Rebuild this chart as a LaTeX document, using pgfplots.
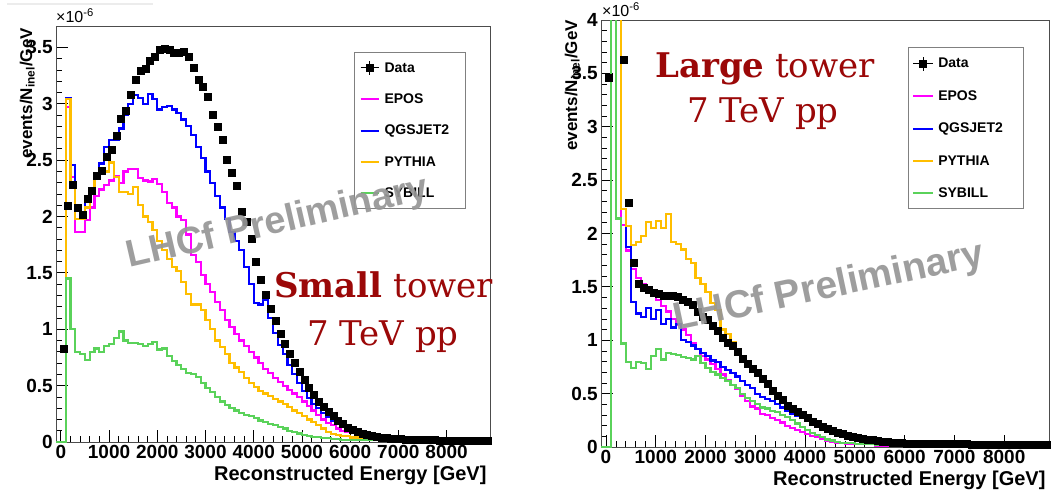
\documentclass[border=0pt]{standalone}
\usepackage{fontspec}
\setmainfont{Liberation Sans}
\newfontfamily\slab{DejaVu Serif}
\usepackage{pgfplots}
\pgfplotsset{compat=1.18}

\definecolor{rmag}{RGB}{255,0,255}
\definecolor{rblue}{RGB}{0,0,255}
\definecolor{rorange}{RGB}{255,190,0}
\definecolor{rgreen}{RGB}{90,210,90}
\definecolor{darkred}{RGB}{155,8,8}
\definecolor{wmark}{RGB}{150,150,150}

\def\lgw{18pt}
\def\lgt{76pt}
\newcommand\lgent[1]{\raisebox{0pt}[10pt][0pt]{\makebox[\lgt][l]{#1}}}

\pgfplotsset{
  lhcf/.style={
    scale only axis,
    anchor=south west,
    xmin=-100, xmax=8900, ymin=0,
    xtick={0,1000,...,8000},
    minor x tick num=4, minor y tick num=4,
    tick pos=left,
    major tick length=12pt, minor tick length=6pt,
    tick style={black, line width=0.8pt},
    axis line style={gray!60!black, line width=0.8pt},
    /pgf/number format/assume math mode=true,
    /pgf/number format/set thousands separator={},
    tick label style={font=\fontsize{19}{19}\selectfont\bfseries},
    yticklabel style={inner xsep=3pt},
    legend cell align=left,
  },
  hist/.style={const plot, mark=none, line width=2.2pt,
    legend image code/.code={\path[draw=none, fill=none] (0pt,-7pt) rectangle (\lgw,7pt);
      \draw[##1, line width=2pt] (0pt,0pt) -- (\lgw,0pt);}},
  data/.style={only marks, mark=square*, mark size=3.5pt, black,
    legend image code/.code={\path[draw=none, fill=none] (0pt,-7pt) rectangle (\lgw,7pt);
      \draw[black, line width=0.8pt] (0pt,0pt) -- (\lgw,0pt);
      \draw[black, line width=0.8pt] ({\lgw/2},-7pt) -- ({\lgw/2},7pt);
      \fill[black] ({\lgw/2-3.5pt},-3.5pt) rectangle ({\lgw/2+3.5pt},3.5pt);}},
}

\begin{document}
\begin{tikzpicture}
\useasboundingbox (0pt,0pt) rectangle (1052pt,-494pt);
\draw[gray!15, line width=2pt] (7pt,-4pt) -- (153pt,-4pt);

% ---------------- Small tower ----------------
\begin{axis}[lhcf, at={(56pt,-442pt)}, width=434pt, height=416pt,
  ymax=3.69, ytick={0,0.5,1,1.5,2,2.5,3,3.5},
  legend style={at={(rel axis cs:0.687,0.9375)}, anchor=north west,
    draw=gray, line width=0.8pt, fill=white, inner xsep=5pt, inner ysep=8pt,
    row sep=17.25pt, font=\fontsize{14}{14}\selectfont\bfseries,
    nodes={inner sep=0pt}, /tikz/every odd column/.append style={column sep=5pt}}]

\addplot[data] coordinates {
(50,0.83)(150,2.10)(250,2.28)(350,2.08)(450,2.02)(550,2.16)(650,2.23)(750,2.36)(850,2.41)(950,2.53)
(1050,2.59)(1150,2.72)(1250,2.87)(1350,2.94)(1450,3.08)(1550,3.21)(1650,3.29)(1750,3.31)(1850,3.38)(1950,3.42)
(2050,3.48)(2150,3.49)(2250,3.48)(2350,3.45)(2450,3.45)(2550,3.46)(2650,3.42)(2750,3.32)(2850,3.21)(2950,3.15)
(3050,3.06)(3150,2.90)(3250,2.80)(3350,2.68)(3450,2.50)(3550,2.39)(3650,2.27)(3750,2.04)(3850,1.95)(3950,1.80)
(4050,1.60)(4150,1.44)(4250,1.31)(4350,1.18)(4450,1.08)(4550,0.96)(4650,0.87)(4750,0.78)(4850,0.70)(4950,0.62)
(5050,0.55)(5150,0.48)(5250,0.42)(5350,0.36)(5450,0.31)(5550,0.27)(5650,0.23)(5750,0.19)(5850,0.16)(5950,0.13)
(6050,0.11)(6150,0.09)(6250,0.075)(6350,0.065)(6450,0.055)(6550,0.047)(6650,0.04)(6750,0.035)(6850,0.031)(6950,0.028)
(7050,0.025)(7150,0.023)(7250,0.021)(7350,0.02)(7450,0.019)(7550,0.018)(7650,0.017)(7750,0.016)(7850,0.015)(7950,0.014)
(8050,0.013)(8150,0.013)(8250,0.012)(8350,0.012)(8450,0.011)(8550,0.011)(8650,0.010)(8750,0.010)(8850,0.010)};
\addlegendentry{\lgent{Data}}

\addplot[hist, rmag] coordinates {
(-100,0)(100,2.97)(200,2.35)(300,1.86)(400,1.86)(500,1.97)(600,2.08)(700,2.18)(800,2.24)(900,2.28)
(1000,2.32)(1100,2.36)(1200,2.30)(1300,2.40)(1400,2.42)(1500,2.42)(1600,2.34)(1700,2.32)(1800,2.31)(1900,2.33)
(2000,2.29)(2100,2.22)(2200,2.12)(2300,2.08)(2400,2.00)(2500,1.97)(2600,1.84)(2700,1.66)(2800,1.60)(2900,1.48)
(3000,1.40)(3100,1.33)(3200,1.24)(3300,1.17)(3400,1.08)(3500,1.02)(3600,0.96)(3700,0.90)(3800,0.85)(3900,0.80)
(4000,0.75)(4100,0.70)(4200,0.65)(4300,0.61)(4400,0.57)(4500,0.53)(4600,0.50)(4700,0.46)(4800,0.43)(4900,0.40)
(5000,0.36)(5100,0.32)(5200,0.28)(5300,0.24)(5400,0.20)(5500,0.17)(5600,0.15)(5700,0.12)(5800,0.10)(5900,0.09)
(6000,0.08)(6200,0.06)(6400,0.045)(6600,0.035)(6800,0.028)(7000,0.02)(7500,0.015)(8000,0.01)(8500,0.008)(8900,0.008)};
\addlegendentry{\lgent{EPOS}}

\addplot[hist, rblue] coordinates {
(-100,0)(100,3.05)(200,2.46)(300,2.10)(400,2.03)(500,2.16)(600,2.25)(700,2.38)(800,2.47)(900,2.62)
(1000,2.68)(1100,2.68)(1200,2.78)(1300,2.90)(1400,3.00)(1500,3.08)(1600,3.05)(1700,3.00)(1800,3.09)(1900,3.04)
(2000,2.95)(2100,2.97)(2200,2.98)(2300,2.95)(2400,2.92)(2500,2.86)(2600,2.80)(2700,2.72)(2800,2.62)(2900,2.52)
(3000,2.40)(3100,2.30)(3200,2.18)(3300,2.08)(3400,1.98)(3500,1.86)(3600,1.78)(3700,1.70)(3800,1.55)(3900,1.40)
(4000,1.23)(4100,1.22)(4200,1.26)(4300,1.10)(4400,0.97)(4500,0.86)(4600,0.78)(4700,0.68)(4800,0.60)(4900,0.52)
(5000,0.45)(5100,0.39)(5200,0.34)(5300,0.30)(5400,0.26)(5500,0.22)(5600,0.19)(5700,0.16)(5800,0.13)(5900,0.11)
(6000,0.10)(6100,0.085)(6200,0.075)(6300,0.065)(6400,0.055)(6600,0.045)(6800,0.035)(7000,0.028)(7300,0.02)(7700,0.015)
(8100,0.011)(8500,0.008)(8900,0.008)};
\addlegendentry{\lgent{QGSJET2}}

\addplot[hist, rorange] coordinates {
(-100,0)(100,3.04)(200,2.30)(300,1.98)(400,1.98)(500,2.08)(600,2.22)(700,2.33)(800,2.38)(900,2.40)
(1000,2.48)(1100,2.35)(1200,2.22)(1300,2.22)(1400,2.20)(1500,2.26)(1600,2.10)(1700,2.00)(1800,1.95)(1900,1.88)
(2000,1.78)(2100,1.70)(2200,1.62)(2300,1.55)(2400,1.52)(2500,1.42)(2600,1.31)(2700,1.22)(2800,1.22)(2900,1.17)
(3000,1.08)(3100,1.00)(3200,0.90)(3300,0.84)(3400,0.78)(3500,0.70)(3600,0.66)(3700,0.62)(3800,0.57)(3900,0.52)
(4000,0.49)(4100,0.45)(4200,0.43)(4300,0.41)(4400,0.38)(4500,0.36)(4600,0.34)(4700,0.31)(4800,0.28)(4900,0.26)
(5000,0.23)(5100,0.20)(5200,0.18)(5300,0.15)(5400,0.12)(5500,0.09)(5600,0.07)(5700,0.06)(5800,0.05)(6000,0.04)
(6200,0.03)(6500,0.02)(7000,0.015)(7500,0.01)(8000,0.008)(8900,0.008)};
\addlegendentry{\lgent{PYTHIA}}

\addplot[hist, rgreen] coordinates {
(-100,0)(100,1.45)(200,1.0)(300,0.80)(400,0.78)(500,0.73)(600,0.80)(700,0.83)(800,0.80)(900,0.85)
(1000,0.87)(1100,0.92)(1200,0.98)(1300,0.90)(1400,0.88)(1500,0.88)(1600,0.87)(1700,0.85)(1800,0.87)(1900,0.89)
(2000,0.82)(2100,0.83)(2200,0.76)(2300,0.72)(2400,0.68)(2500,0.65)(2600,0.61)(2700,0.60)(2800,0.58)(2900,0.52)
(3000,0.48)(3100,0.44)(3200,0.40)(3300,0.36)(3400,0.33)(3500,0.30)(3600,0.28)(3700,0.26)(3800,0.24)(3900,0.23)
(4000,0.21)(4100,0.19)(4200,0.18)(4300,0.16)(4400,0.15)(4500,0.13)(4600,0.12)(4700,0.10)(4800,0.09)(4900,0.075)
(5000,0.065)(5100,0.055)(5200,0.045)(5400,0.035)(5600,0.025)(5800,0.02)(6200,0.015)(6800,0.01)(7500,0.008)(8200,0.005)(8900,0.005)};
\addlegendentry{\lgent{SYBILL}}
\end{axis}

% ---------------- Large tower ----------------
\def\lgw{20pt}
\def\lgt{81pt}
\begin{axis}[lhcf, at={(601pt,-447pt)}, width=448pt, height=427pt,
  ymax=4, ytick={0,0.5,1,1.5,2,2.5,3,3.5,4},
  legend style={at={(rel axis cs:0.685,0.936)}, anchor=north west,
    draw=gray, line width=0.8pt, fill=white, inner xsep=4pt, inner ysep=8.5pt,
    row sep=18.25pt, font=\fontsize{14}{14}\selectfont\bfseries,
    nodes={inner sep=0pt}, /tikz/every odd column/.append style={column sep=4pt}}]

\addplot[data] coordinates {
(50,3.46)(350,3.63)(450,2.29)(550,1.73)(650,1.53)(750,1.49)(850,1.47)(950,1.45)
(1050,1.44)(1150,1.42)(1250,1.42)(1350,1.42)(1450,1.41)(1550,1.38)(1650,1.36)(1750,1.33)(1850,1.27)(1950,1.22)
(2050,1.19)(2150,1.14)(2250,1.09)(2350,1.02)(2450,0.98)(2550,0.95)(2650,0.89)(2750,0.83)(2850,0.78)(2950,0.73)
(3050,0.70)(3150,0.64)(3250,0.59)(3350,0.53)(3450,0.48)(3550,0.44)(3650,0.39)(3750,0.36)(3850,0.33)(3950,0.30)
(4050,0.27)(4150,0.24)(4250,0.22)(4350,0.19)(4450,0.17)(4550,0.15)(4650,0.13)(4750,0.12)(4850,0.105)(4950,0.094)
(5050,0.085)(5150,0.077)(5250,0.07)(5350,0.064)(5450,0.058)(5550,0.053)(5650,0.048)(5750,0.044)(5850,0.04)(5950,0.037)
(6050,0.035)(6150,0.034)(6250,0.033)(6350,0.032)(6450,0.031)(6550,0.03)(6650,0.03)(6750,0.029)(6850,0.029)(6950,0.028)
(7050,0.028)(7150,0.027)(7250,0.027)(7350,0.026)(7450,0.026)(7550,0.025)(7650,0.025)(7750,0.025)(7850,0.024)(7950,0.024)
(8050,0.024)(8150,0.023)(8250,0.023)(8350,0.023)(8450,0.022)(8550,0.022)(8650,0.022)(8750,0.022)(8850,0.022)};
\addlegendentry{\lgent{Data}}

\addplot[hist, rmag] coordinates {
(-100,0)(100,6)(300,2.08)(400,1.84)(500,1.67)(600,1.58)(700,1.53)(800,1.50)(900,1.45)
(1000,1.38)(1100,1.32)(1200,1.27)(1300,1.20)(1400,1.14)(1500,1.10)(1600,1.05)(1700,0.97)(1800,0.92)(1900,0.85)
(2000,0.82)(2100,0.78)(2200,0.73)(2300,0.68)(2400,0.63)(2500,0.58)(2600,0.54)(2700,0.48)(2800,0.43)(2900,0.38)
(3000,0.36)(3100,0.31)(3200,0.30)(3300,0.27)(3400,0.25)(3500,0.23)(3600,0.20)(3700,0.18)(3800,0.16)(3900,0.14)
(4000,0.12)(4100,0.10)(4200,0.09)(4300,0.08)(4400,0.06)(4500,0.05)(4600,0.04)(4800,0.03)(5000,0.025)(5400,0.015)
(6000,0.01)(7000,0.006)(8900,0.006)};
\addlegendentry{\lgent{EPOS}}

\addplot[hist, rblue] coordinates {
(-100,0)(100,6)(300,2.23)(400,1.87)(500,1.36)(600,1.25)(700,1.22)(800,1.30)(900,1.20)
(1000,1.28)(1100,1.15)(1200,1.20)(1300,1.12)(1400,1.15)(1500,1.00)(1600,0.98)(1700,0.95)(1800,0.92)(1900,0.88)
(2000,0.85)(2100,0.81)(2200,0.80)(2300,0.75)(2400,0.72)(2500,0.69)(2600,0.66)(2700,0.62)(2800,0.58)(2900,0.55)
(3000,0.50)(3100,0.47)(3200,0.45)(3300,0.43)(3400,0.40)(3500,0.37)(3600,0.34)(3700,0.31)(3800,0.29)(3900,0.27)
(4000,0.24)(4100,0.21)(4200,0.19)(4300,0.17)(4400,0.15)(4500,0.13)(4600,0.11)(4700,0.10)(4800,0.08)(5000,0.065)
(5200,0.05)(5400,0.04)(5600,0.03)(6000,0.02)(6500,0.015)(7000,0.01)(8000,0.007)(8900,0.007)};
\addlegendentry{\lgent{QGSJET2}}

\addplot[hist, rorange] coordinates {
(-100,0)(100,8)(300,2.23)(400,2.07)(500,1.89)(600,1.92)(700,1.98)(800,2.11)(900,2.05)
(1000,2.12)(1100,2.05)(1200,2.18)(1300,1.92)(1400,1.90)(1500,1.85)(1600,1.76)(1700,1.72)(1800,1.58)(1900,1.53)
(2000,1.45)(2100,1.35)(2200,1.28)(2300,1.10)(2400,1.06)(2500,0.98)(2600,0.90)(2700,0.82)(2800,0.77)(2900,0.72)
(3000,0.68)(3100,0.62)(3200,0.58)(3300,0.54)(3400,0.48)(3500,0.43)(3600,0.38)(3700,0.35)(3800,0.31)(3900,0.28)
(4000,0.25)(4100,0.22)(4200,0.20)(4300,0.17)(4400,0.15)(4500,0.13)(4600,0.11)(4700,0.10)(4800,0.09)(4900,0.08)
(5000,0.07)(5200,0.06)(5400,0.05)(5600,0.04)(5800,0.03)(6000,0.025)(6500,0.02)(7000,0.012)(7500,0.01)(8000,0.008)(8900,0.008)};
\addlegendentry{\lgent{PYTHIA}}

\addplot[hist, rgreen] coordinates {
(-100,0)(100,8)(200,2.14)(300,0.97)(400,0.80)(500,0.74)(600,0.80)(700,0.79)(800,0.73)(900,0.85)
(1000,0.92)(1100,0.82)(1200,0.88)(1300,0.87)(1400,0.86)(1500,0.84)(1600,0.83)(1700,0.82)(1800,0.85)(1900,0.79)
(2000,0.74)(2100,0.70)(2200,0.68)(2300,0.65)(2400,0.62)(2500,0.58)(2600,0.55)(2700,0.50)(2800,0.46)(2900,0.43)
(3000,0.40)(3100,0.37)(3200,0.36)(3300,0.34)(3400,0.33)(3500,0.30)(3600,0.28)(3700,0.25)(3800,0.22)(3900,0.19)
(4000,0.16)(4100,0.13)(4200,0.11)(4300,0.09)(4400,0.07)(4500,0.06)(4600,0.05)(4700,0.04)(4800,0.035)(5000,0.03)
(5400,0.02)(6000,0.012)(7000,0.008)(8900,0.008)};
\addlegendentry{\lgent{SYBILL}}
\end{axis}

% axis titles and scale factors
\node[anchor=base east, font=\fontsize{20}{20}\selectfont\bfseries] at (490pt,-480pt) {Reconstructed Energy [GeV]};
\node[anchor=base east, font=\fontsize{20}{20}\selectfont\bfseries] at (1049pt,-485pt) {Reconstructed Energy [GeV]};
\node[anchor=base east, rotate=90, inner sep=0pt, font=\fontsize{17}{17}\selectfont\bfseries] at (32pt,-28pt) {events/N\textsubscript{inel}/GeV};
\node[anchor=base east, rotate=90, inner sep=0pt, font=\fontsize{17}{17}\selectfont\bfseries] at (577pt,-20pt) {events/N\textsubscript{inel}/GeV};
\node[anchor=base west, inner sep=0pt, font=\fontsize{16}{16}\selectfont] at (56pt,-23pt) {×10\textsuperscript{-6}};
\node[anchor=base west, inner sep=0pt, font=\fontsize{16}{16}\selectfont] at (602pt,-17pt) {×10\textsuperscript{-6}};

% watermarks
\node[rotate=13, anchor=base, inner sep=0pt, text=wmark, opacity=0.92, font=\fontsize{38}{38}\selectfont\bfseries] at (280pt,-233pt) {LHCf Preliminary};
\node[rotate=12, anchor=base, inner sep=0pt, text=wmark, opacity=0.92, font=\fontsize{39}{39}\selectfont\bfseries] at (831pt,-298pt) {LHCf Preliminary};

% panel captions
\node[anchor=base west, inner sep=0pt, text=darkred, font=\fontsize{34}{34}\selectfont\slab] at (274pt,-298pt) {\textbf{Small} tower};
\node[anchor=base west, inner sep=0pt, text=darkred, font=\fontsize{34}{34}\selectfont\slab] at (307pt,-345pt) {7 TeV pp};
\node[anchor=base west, inner sep=0pt, text=darkred, font=\fontsize{34}{34}\selectfont\slab] at (655pt,-78pt) {\textbf{Large} tower};
\node[anchor=base west, inner sep=0pt, text=darkred, font=\fontsize{34}{34}\selectfont\slab] at (687pt,-123pt) {7 TeV pp};
\end{tikzpicture}
\end{document}
